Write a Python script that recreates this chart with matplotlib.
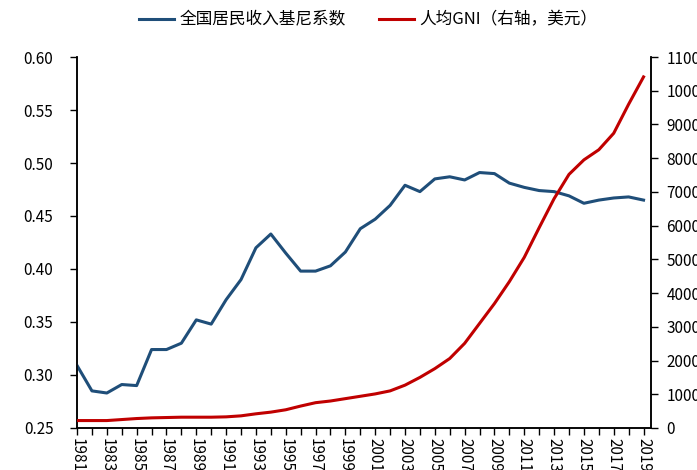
import numpy as np
import matplotlib
matplotlib.use("Agg")
import matplotlib.pyplot as plt

plt.rcParams['font.family'] = ['Noto Sans CJK SC', 'DejaVu Sans']

years = list(range(1981, 2020))

# 全国居民收入基尼系数
gini = [0.309, 0.285, 0.283, 0.291, 0.290, 0.324, 0.324, 0.330, 0.352, 0.348,
        0.371, 0.390, 0.420, 0.433, 0.415, 0.398, 0.398, 0.403, 0.416, 0.438,
        0.447, 0.460, 0.479, 0.473, 0.485, 0.487, 0.484, 0.491, 0.490, 0.481,
        0.477, 0.474, 0.473, 0.469, 0.462, 0.465, 0.467, 0.468, 0.465]

# 人均GNI（美元）
gni = [220, 220, 220, 250, 280, 300, 310, 320, 320, 320,
       330, 360, 420, 470, 540, 650, 750, 800, 870, 940,
       1010, 1100, 1270, 1500, 1760, 2060, 2510, 3100, 3690, 4340,
       5060, 5940, 6800, 7520, 7950, 8250, 8740, 9600, 10410]

gini_label = "全国居民收入基尼系数"
gni_label = "人均GNI（右轴，美元）"

left_ticks = [0.25, 0.30, 0.35, 0.40, 0.45, 0.50, 0.55, 0.60]
right_ticks = list(range(0, 11001, 1000))

blue = "#1F4E79"
red = "#C00000"

fig = plt.figure(figsize=(6.97, 4.70), dpi=100)
ax = fig.add_axes([0.1105, 0.0894, 0.8235, 0.7893])
ax2 = ax.twinx()

l1, = ax.plot(years, gini, color=blue, lw=2.2, label=gini_label, zorder=3)
l2, = ax2.plot(years, gni, color=red, lw=2.2, label=gni_label, zorder=3)

ax.set_xlim(1981, 2019.5)
ax.set_ylim(0.25, 0.60)
ax2.set_ylim(0, 11000)

ax.set_yticks(left_ticks)
ax.set_yticklabels([f"{v:.2f}" for v in left_ticks])
ax2.set_yticks(right_ticks)
ax2.set_yticklabels([str(v) for v in right_ticks])

ax.set_xticks(years)
ax.set_xticklabels([str(y) if (y - 1981) % 2 == 0 else "" for y in years],
                   rotation=-90)

for a in (ax, ax2):
    a.spines['top'].set_visible(False)
    for s in a.spines.values():
        s.set_linewidth(1.1)
        s.set_color("black")

ax.tick_params(axis='y', direction='out', length=5, width=1, pad=12,
               labelsize=11, colors='black')
ax.tick_params(axis='x', direction='out', length=5, width=1, pad=2,
               labelsize=11, colors='black')
ax2.tick_params(axis='y', direction='out', length=5, width=1, pad=6,
                labelsize=11, colors='black')

fig.legend(handles=[l1, l2], loc='center', bbox_to_anchor=(0.528, 0.957),
           ncol=2, frameon=False, fontsize=12, handlelength=2.1,
           handletextpad=0.3, columnspacing=2.0)

fig.savefig("out.png", dpi=100)
